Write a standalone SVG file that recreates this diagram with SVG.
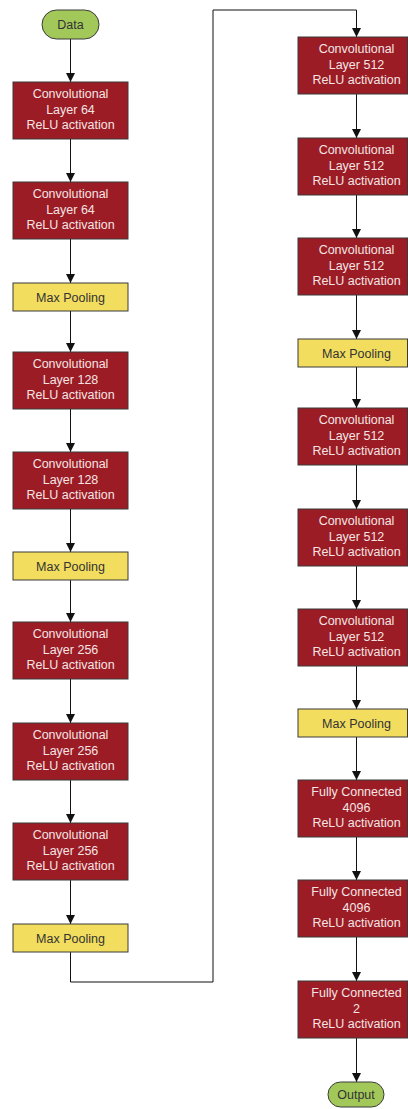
<svg xmlns="http://www.w3.org/2000/svg" width="408" height="1109" viewBox="0 0 408 1109">
  <defs>
    <marker id="arrow" viewBox="0 0 10 10" refX="10" refY="5" markerWidth="9" markerHeight="9" markerUnits="userSpaceOnUse" orient="auto">
      <path d="M0,0 L10,5 L0,10 Z" fill="#111"/>
    </marker>
    <style>
      .conv { fill: #9b1c24; stroke: #3a3a3a; stroke-width: 1; }
      .pool { fill: #f2dd5f; stroke: #3a3a3a; stroke-width: 1; }
      .term { fill: #a3c85a; stroke: #3a3a3a; stroke-width: 1; }
      .lt { font-family: "Liberation Sans", Arial, sans-serif; font-size: 12.5px; fill: #f3e4e4; text-anchor: middle; }
      .dt { font-family: "Liberation Sans", Arial, sans-serif; font-size: 12.5px; fill: #333; text-anchor: middle; }
      .edge { fill: none; stroke: #111; stroke-width: 1; marker-end: url(#arrow); }
    </style>
  </defs>
  <rect width="408" height="1109" fill="#ffffff"/>

  <!-- connectors -->
  <g id="connectors">
    <path class="edge" d="M70.5,39 V82"/>
    <path class="edge" d="M70.5,139 V182"/>
    <path class="edge" d="M70.5,239 V283"/>
    <path class="edge" d="M70.5,311 V352"/>
    <path class="edge" d="M70.5,409 V452"/>
    <path class="edge" d="M70.5,509 V552"/>
    <path class="edge" d="M70.5,580 V622"/>
    <path class="edge" d="M70.5,679 V723"/>
    <path class="edge" d="M70.5,780 V823"/>
    <path class="edge" d="M70.5,880 V924"/>
    <path class="edge" d="M70.5,952 V982 H213 V10 H356.5 V37"/>
    <path class="edge" d="M356.5,94 V138"/>
    <path class="edge" d="M356.5,195 V238"/>
    <path class="edge" d="M356.5,295 V339"/>
    <path class="edge" d="M356.5,367 V408"/>
    <path class="edge" d="M356.5,465 V509"/>
    <path class="edge" d="M356.5,566 V609"/>
    <path class="edge" d="M356.5,666 V709"/>
    <path class="edge" d="M356.5,737 V780"/>
    <path class="edge" d="M356.5,837 V880"/>
    <path class="edge" d="M356.5,937 V981"/>
    <path class="edge" d="M356.5,1038 V1082"/>
  </g>

  <!-- left column -->
  <g id="data">
    <rect class="term" x="42" y="10" width="57" height="29" rx="14.5"/>
    <text class="dt" x="70.5" y="29">Data</text>
  </g>
  <g id="conv1">
    <rect class="conv" x="13" y="82" width="115" height="57"/>
    <text class="lt" x="70.5" y="98">Convolutional</text>
    <text class="lt" x="70.5" y="113.5">Layer 64</text>
    <text class="lt" x="70.5" y="129">ReLU activation</text>
  </g>
  <g id="conv2">
    <rect class="conv" x="13" y="182" width="115" height="57"/>
    <text class="lt" x="70.5" y="198">Convolutional</text>
    <text class="lt" x="70.5" y="213.5">Layer 64</text>
    <text class="lt" x="70.5" y="229">ReLU activation</text>
  </g>
  <g id="pool1">
    <rect class="pool" x="13" y="283" width="115" height="28"/>
    <text class="dt" x="70.5" y="301.5">Max Pooling</text>
  </g>
  <g id="conv3">
    <rect class="conv" x="13" y="352" width="115" height="57"/>
    <text class="lt" x="70.5" y="368">Convolutional</text>
    <text class="lt" x="70.5" y="383.5">Layer 128</text>
    <text class="lt" x="70.5" y="399">ReLU activation</text>
  </g>
  <g id="conv4">
    <rect class="conv" x="13" y="452" width="115" height="57"/>
    <text class="lt" x="70.5" y="468">Convolutional</text>
    <text class="lt" x="70.5" y="483.5">Layer 128</text>
    <text class="lt" x="70.5" y="499">ReLU activation</text>
  </g>
  <g id="pool2">
    <rect class="pool" x="13" y="552" width="115" height="28"/>
    <text class="dt" x="70.5" y="570.5">Max Pooling</text>
  </g>
  <g id="conv5">
    <rect class="conv" x="13" y="622" width="115" height="57"/>
    <text class="lt" x="70.5" y="638">Convolutional</text>
    <text class="lt" x="70.5" y="653.5">Layer 256</text>
    <text class="lt" x="70.5" y="669">ReLU activation</text>
  </g>
  <g id="conv6">
    <rect class="conv" x="13" y="723" width="115" height="57"/>
    <text class="lt" x="70.5" y="739">Convolutional</text>
    <text class="lt" x="70.5" y="754.5">Layer 256</text>
    <text class="lt" x="70.5" y="770">ReLU activation</text>
  </g>
  <g id="conv7">
    <rect class="conv" x="13" y="823" width="115" height="57"/>
    <text class="lt" x="70.5" y="839">Convolutional</text>
    <text class="lt" x="70.5" y="854.5">Layer 256</text>
    <text class="lt" x="70.5" y="870">ReLU activation</text>
  </g>
  <g id="pool3">
    <rect class="pool" x="13" y="924" width="115" height="28"/>
    <text class="dt" x="70.5" y="942.5">Max Pooling</text>
  </g>

  <!-- right column -->
  <g id="conv8">
    <rect class="conv" x="298" y="37" width="109.5" height="57"/>
    <text class="lt" x="356.5" y="53">Convolutional</text>
    <text class="lt" x="356.5" y="68.5">Layer 512</text>
    <text class="lt" x="356.5" y="84">ReLU activation</text>
  </g>
  <g id="conv9">
    <rect class="conv" x="298" y="138" width="109.5" height="57"/>
    <text class="lt" x="356.5" y="154">Convolutional</text>
    <text class="lt" x="356.5" y="169.5">Layer 512</text>
    <text class="lt" x="356.5" y="185">ReLU activation</text>
  </g>
  <g id="conv10">
    <rect class="conv" x="298" y="238" width="109.5" height="57"/>
    <text class="lt" x="356.5" y="254">Convolutional</text>
    <text class="lt" x="356.5" y="269.5">Layer 512</text>
    <text class="lt" x="356.5" y="285">ReLU activation</text>
  </g>
  <g id="pool4">
    <rect class="pool" x="298" y="339" width="109.5" height="28"/>
    <text class="dt" x="356.5" y="357.5">Max Pooling</text>
  </g>
  <g id="conv11">
    <rect class="conv" x="298" y="408" width="109.5" height="57"/>
    <text class="lt" x="356.5" y="424">Convolutional</text>
    <text class="lt" x="356.5" y="439.5">Layer 512</text>
    <text class="lt" x="356.5" y="455">ReLU activation</text>
  </g>
  <g id="conv12">
    <rect class="conv" x="298" y="509" width="109.5" height="57"/>
    <text class="lt" x="356.5" y="525">Convolutional</text>
    <text class="lt" x="356.5" y="540.5">Layer 512</text>
    <text class="lt" x="356.5" y="556">ReLU activation</text>
  </g>
  <g id="conv13">
    <rect class="conv" x="298" y="609" width="109.5" height="57"/>
    <text class="lt" x="356.5" y="625">Convolutional</text>
    <text class="lt" x="356.5" y="640.5">Layer 512</text>
    <text class="lt" x="356.5" y="656">ReLU activation</text>
  </g>
  <g id="pool5">
    <rect class="pool" x="298" y="709" width="109.5" height="28"/>
    <text class="dt" x="356.5" y="727.5">Max Pooling</text>
  </g>
  <g id="fc1">
    <rect class="conv" x="298" y="780" width="109.5" height="57"/>
    <text class="lt" x="356.5" y="796">Fully Connected</text>
    <text class="lt" x="356.5" y="811.5">4096</text>
    <text class="lt" x="356.5" y="827">ReLU activation</text>
  </g>
  <g id="fc2">
    <rect class="conv" x="298" y="880" width="109.5" height="57"/>
    <text class="lt" x="356.5" y="896">Fully Connected</text>
    <text class="lt" x="356.5" y="911.5">4096</text>
    <text class="lt" x="356.5" y="927">ReLU activation</text>
  </g>
  <g id="fc3">
    <rect class="conv" x="298" y="981" width="109.5" height="57"/>
    <text class="lt" x="356.5" y="997">Fully Connected</text>
    <text class="lt" x="356.5" y="1012.5">2</text>
    <text class="lt" x="356.5" y="1028">ReLU activation</text>
  </g>
  <g id="output">
    <rect class="term" x="328" y="1082" width="56" height="25" rx="12.5"/>
    <text class="dt" x="356" y="1099">Output</text>
  </g>
</svg>
